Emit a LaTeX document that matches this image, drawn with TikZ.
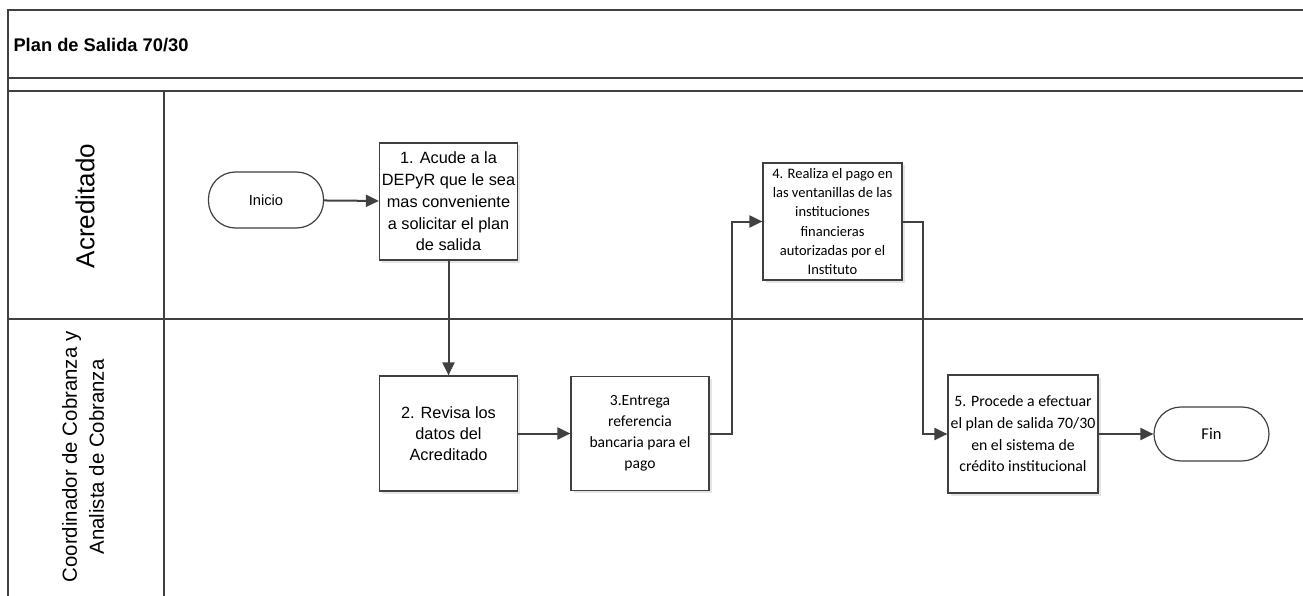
\documentclass[tikz,border=0pt]{standalone}
\usepackage{fontspec}
\setmainfont{Liberation Sans}
\newfontfamily\calibri{Carlito}
\usetikzlibrary{positioning, arrows.meta, shadows}
\definecolor{linegray}{HTML}{404040}

\begin{document}
\begin{tikzpicture}[x=1pt, y=-1pt,
  lane/.style={draw=linegray, line width=1.5pt},
  task/.style={draw=linegray, line width=1.2pt, fill=white, align=center,
    inner sep=0pt, minimum width=138pt, minimum height=117pt,
    drop shadow={shadow xshift=2.5pt, shadow yshift=-2.5pt, fill=black!10, opacity=1}},
  term/.style={draw=linegray, line width=1.2pt, fill=white, rounded corners=27pt,
    minimum width=115pt, minimum height=56pt, inner sep=0pt},
  flow/.style={draw=linegray, line width=2pt, -{Triangle[length=13pt, width=12pt]}}]
\useasboundingbox (0,0) rectangle (1303,596);

% marco y carriles
\draw[lane] (1303,10) -- (8,10) -- (8,596);
\draw[lane] (8,78) -- (1303,78);
\draw[lane] (8,91) -- (1303,91);
\draw[lane] (8,319) -- (1303,319);
\draw[lane] (164,91) -- (164,596);

\node[anchor=west, font={\fontsize{18.3}{22}\selectfont\bfseries}] at (10,45) (titulo) {Plan de Salida 70/30};
\node[rotate=90, font={\fontsize{26}{30}\selectfont}] at (85,206) (acreditado) {Acreditado};
\node[rotate=90, align=center, font={\fontsize{20.4}{27}\selectfont}] at (83,457) (cobranza)
  {Coordinador de Cobranza y\\Analista de Cobranza};

% pasos
\node[term, font={\fontsize{14.7}{17}\selectfont}] at (266,200) (inicio) {Inicio};
\node[task, font={\fontsize{16.3}{21.7}\selectfont}] at (448.5,201.5) (paso1)
  {1. Acude a la\\DEPyR que le sea\\mas conveniente\\a solicitar el plan\\de salida};
\node[task, minimum height=115pt, font={\fontsize{16.3}{21.3}\selectfont}] at (448.5,433.5) (paso2)
  {2. Revisa los\\datos del\\Acreditado};
\node[task, minimum height=114pt, font={\fontsize{15.6}{20.9}\calibri\selectfont}] at (640,433.5) (paso3)
  {3.Entrega\\referencia\\bancaria para el\\pago};
\node[task, minimum width=139pt, font={\fontsize{14.5}{19.3}\calibri\selectfont}] at (832.5,221.5) (paso4)
  {4. Realiza el pago en\\las ventanillas de las\\instituciones\\financieras\\autorizadas por el\\Instituto};
\node[task, minimum width=150pt, minimum height=118pt, font={\fontsize{15.8}{21.7}\calibri\selectfont}] at (1023,434) (paso5)
  {5. Procede a efectuar\\el plan de salida 70/30\\en el sistema de\\crédito institucional};
\node[term, minimum height=54pt, font={\fontsize{16.5}{19}\calibri\selectfont}] at (1211.5,434) (fin) {Fin};

% conectores
\draw[flow] (inicio) -- (paso1);
\draw[flow] (paso1) -- (paso2);
\draw[flow] (paso2) -- (paso3);
\draw[flow] (paso3.east) -- ++(22.5,0) |- (paso4.west);
\draw[flow] (paso4.east) -- ++(20.5,0) |- (paso5.west);
\draw[flow] (paso5) -- (fin);
\end{tikzpicture}
\end{document}
